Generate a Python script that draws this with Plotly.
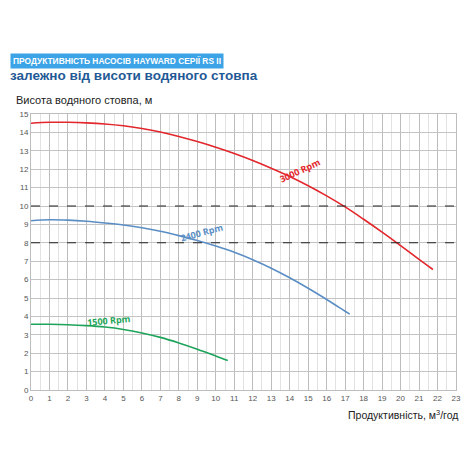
import plotly.graph_objects as go

# Data
x3000 = [0, 1, 2, 3, 4, 5, 6, 7, 8, 9, 10, 11, 12, 13, 14, 15, 16, 17, 18, 19, 20, 21, 21.75]
y3000 = [14.5, 14.55, 14.55, 14.52, 14.46, 14.36, 14.21, 14.02, 13.78, 13.5, 13.19, 12.85, 12.47, 12.05, 11.6, 11.1, 10.55, 9.95, 9.28, 8.58, 7.85, 7.1, 6.55]
x2400 = [0, 1, 2, 3, 4, 5, 6, 7, 8, 9, 10, 11, 12, 13, 14, 15, 16, 17, 17.25]
y2400 = [9.2, 9.25, 9.23, 9.17, 9.08, 8.97, 8.82, 8.63, 8.39, 8.12, 7.82, 7.48, 7.08, 6.62, 6.1, 5.53, 4.92, 4.28, 4.12]
x1500 = [0, 1, 2, 3, 4, 5, 6, 7, 8, 9, 10, 10.65]
y1500 = [3.57, 3.57, 3.55, 3.5, 3.42, 3.29, 3.1, 2.86, 2.56, 2.22, 1.85, 1.6]
ref_levels = [10, 8]
series_names = ["3000 Rpm", "2400 Rpm", "1500 Rpm"]
colors = ["#e3262b", "#5b8ec4", "#1ea45a"]

fig = go.Figure()
for xs, ys, c, n in [(x3000, y3000, colors[0], series_names[0]),
                     (x2400, y2400, colors[1], series_names[1]),
                     (x1500, y1500, colors[2], series_names[2])]:
    fig.add_trace(go.Scatter(x=xs, y=ys, mode="lines", name=n,
                             line=dict(color=c, width=1.6, shape="spline", smoothing=1.0),
                             hoverinfo="skip"))

for lvl in ref_levels:
    fig.add_shape(type="line", xref="x", yref="y", x0=0, x1=23, y0=lvl, y1=lvl,
                  line=dict(color="#222222", width=1.1, dash="dash"), layer="above")

lbl_pos = [(14.55, 11.95, -25), (9.25, 8.56, -15), (4.2, 3.78, -5)]
for (lx, ly, ang), n, c in zip(lbl_pos, series_names, colors):
    fig.add_annotation(x=lx, y=ly, xref="x", yref="y", text="<b>%s</b>" % n,
                       showarrow=False, textangle=ang,
                       font=dict(family="Open Sans, Arial", size=9, color=c))

fig.add_annotation(xref="paper", yref="paper", x=-0.049, y=1.192, xanchor="left", yanchor="middle",
                   text="<b>ПРОДУКТИВНІСТЬ НАСОСІВ HAYWARD СЕРІЇ RS II</b>",
                   showarrow=False, bgcolor="#3ba3e6", borderpad=2,
                   font=dict(family="Arial", size=8.4, color="white"))
fig.add_annotation(xref="paper", yref="paper", x=-0.053, y=1.141, xanchor="left", yanchor="middle",
                   text="<b>залежно від висоти водяного стовпа</b>",
                   showarrow=False,
                   font=dict(family="Arial", size=13.5, color="#1f5a96"))
fig.add_annotation(xref="paper", yref="paper", x=-0.039, y=1.051, xanchor="left", yanchor="middle",
                   text="Висота водяного стовпа, м", showarrow=False,
                   font=dict(family="Arial", size=11, color="#222222"))
fig.add_annotation(xref="paper", yref="paper", x=1.01, y=-0.087, xanchor="right", yanchor="middle",
                   text="Продуктивність, м<sup>3</sup>/год", showarrow=False,
                   font=dict(family="Arial", size=10.5, color="#222222"))

fig.update_xaxes(range=[0, 23], dtick=1, tick0=0, showgrid=True, gridcolor="#bdbdbd", gridwidth=1,
                 minor=dict(dtick=0.5, showgrid=True, gridcolor="#e2e2e2", gridwidth=1),
                 zeroline=False, showline=True, linecolor="#bdbdbd", mirror=True,
                 tickfont=dict(family="Arial", size=8, color="#555555"), ticks="", ticklen=0)
fig.update_yaxes(range=[0, 15], dtick=1, tick0=0, showgrid=True, gridcolor="#c4c4c4", gridwidth=1.3,
                 zeroline=False, showline=True, linecolor="#bdbdbd", mirror=True,
                 tickfont=dict(family="Arial", size=8, color="#555555"), ticks="")

fig.update_layout(width=470, height=470, margin=dict(l=31, r=9, t=114, b=80),
                  plot_bgcolor="white", paper_bgcolor="white", showlegend=False)

fig.write_html("out.html")
